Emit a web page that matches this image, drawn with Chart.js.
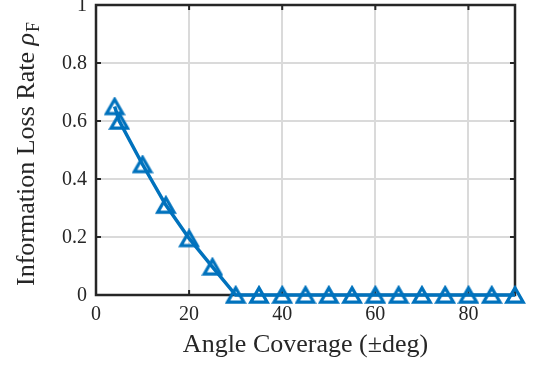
<!DOCTYPE html>
<html>
<head>
<meta charset="utf-8">
<script src="https://cdn.jsdelivr.net/npm/chart.js@4/dist/chart.umd.min.js"></script>
<style>
  html, body { margin: 0; padding: 0; background: #fff; }
  #wrap { width: 533px; height: 366px; }
</style>
</head>
<body>
<div id="wrap"><canvas id="lossChart" width="533" height="366"></canvas></div>
<script>
// angle coverage (deg) and information loss rate
const angles = [4, 5, 10, 15, 20, 25, 30, 35, 40, 45, 50, 55, 60, 65, 70, 75, 80, 85, 90];
const lossRate = [0.65, 0.60, 0.45, 0.31, 0.195, 0.097, 0, 0, 0, 0, 0, 0, 0, 0, 0, 0, 0, 0, 0];
const xTicks = [0, 20, 40, 60, 80];
const yTicks = [0, 0.2, 0.4, 0.6, 0.8, 1];

const BLUE = '#0072BD';
const TEXT = '#262626';
const SERIF = '"Liberation Serif", "Times New Roman", serif';

// hollow triangle marker, centred on its bounding box like MATLAB's '^'
function triangleMarker() {
    const c = document.createElement('canvas');
    c.width = 22; c.height = 20;
    const g = c.getContext('2d');
    g.strokeStyle = BLUE;
    g.lineWidth = 3.2;
    g.lineJoin = 'miter';
    g.beginPath();
    g.moveTo(11, 2.9);
    g.lineTo(19.2, 17.1);
    g.lineTo(2.8, 17.1);
    g.closePath();
    g.stroke();
    return c;
}

// box, inward ticks, y tick labels and the y title with italic rho + subscript
const frame = {
    id: 'frame',
    beforeDatasetsDraw(chart) {
        const { ctx, chartArea: a, scales } = chart;
        ctx.save();
        ctx.strokeStyle = '#262626';
        ctx.lineWidth = 2.5;
        ctx.strokeRect(a.left, a.top, a.right - a.left, a.bottom - a.top);
        ctx.lineWidth = 2;
        const L = 5;
        ctx.beginPath();
        xTicks.forEach(v => {
            const px = scales.x.getPixelForValue(v);
            ctx.moveTo(px, a.bottom); ctx.lineTo(px, a.bottom - L);
            ctx.moveTo(px, a.top); ctx.lineTo(px, a.top + L);
        });
        yTicks.forEach(v => {
            const py = scales.y.getPixelForValue(v);
            ctx.moveTo(a.left, py); ctx.lineTo(a.left + L, py);
            ctx.moveTo(a.right, py); ctx.lineTo(a.right - L, py);
        });
        ctx.stroke();
        ctx.restore();
    },
    afterDraw(chart) {
        const { ctx, chartArea: a, scales } = chart;
        ctx.save();
        ctx.fillStyle = TEXT;
        ctx.font = '20px ' + SERIF;
        ctx.textAlign = 'right';
        ctx.textBaseline = 'middle';
        yTicks.forEach(v => {
            ctx.fillText(String(v), a.left - 9, scales.y.getPixelForValue(v) + 1);
        });
        ctx.restore();

        const main = 'Information Loss Rate ';
        ctx.save();
        ctx.fillStyle = TEXT;
        ctx.translate(34, (a.top + a.bottom) / 2 + 4);
        ctx.rotate(-Math.PI / 2);
        ctx.textBaseline = 'alphabetic';
        ctx.font = '26px ' + SERIF;
        const w1 = ctx.measureText(main).width;
        ctx.font = 'italic 26px ' + SERIF;
        const w2 = ctx.measureText('ρ').width;
        ctx.font = '18px ' + SERIF;
        const w3 = ctx.measureText('F').width;
        let x = -(w1 + w2 + w3 + 1) / 2;
        ctx.textAlign = 'left';
        ctx.font = '26px ' + SERIF;
        ctx.fillText(main, x, 0);
        x += w1;
        ctx.font = 'italic 26px ' + SERIF;
        ctx.fillText('ρ', x, 0);
        x += w2 + 1;
        ctx.font = '18px ' + SERIF;
        ctx.fillText('F', x, 5);
        ctx.restore();
    }
};

new Chart(document.getElementById('lossChart'), {
    type: 'line',
    data: {
        datasets: [{
            data: angles.map((a, i) => ({ x: a, y: lossRate[i] })),
            borderColor: BLUE,
            borderWidth: 3.5,
            pointStyle: triangleMarker(),
            pointRadius: 10,
            pointHoverRadius: 10,
            tension: 0,
            clip: false
        }]
    },
    options: {
        responsive: false,
        animation: false,
        events: [],
        layout: { autoPadding: false, padding: { top: 5, right: 18, left: 0, bottom: 0 } },
        plugins: {
            legend: { display: false },
            tooltip: { enabled: false }
        },
        scales: {
            x: {
                type: 'linear',
                min: 0,
                max: 90,
                afterBuildTicks: s => { s.ticks = xTicks.map(v => ({ value: v })); },
                afterFit: s => { s.height = 71; },
                grid: { color: '#dadada', lineWidth: 2, drawTicks: false },
                border: { display: false },
                ticks: { color: TEXT, padding: 8, font: { family: SERIF, size: 20 } },
                title: {
                    display: true,
                    text: 'Angle Coverage (±deg)',
                    color: TEXT,
                    padding: { top: 0, bottom: 5 },
                    font: { family: SERIF, size: 26 }
                }
            },
            y: {
                min: 0,
                max: 1,
                afterBuildTicks: s => { s.ticks = yTicks.map(v => ({ value: v })); },
                afterFit: s => { s.width = 96; },
                grid: { color: '#dadada', lineWidth: 2, drawTicks: false },
                border: { display: false },
                ticks: { display: false }
            }
        }
    },
    plugins: [frame]
});
</script>
</body>
</html>
